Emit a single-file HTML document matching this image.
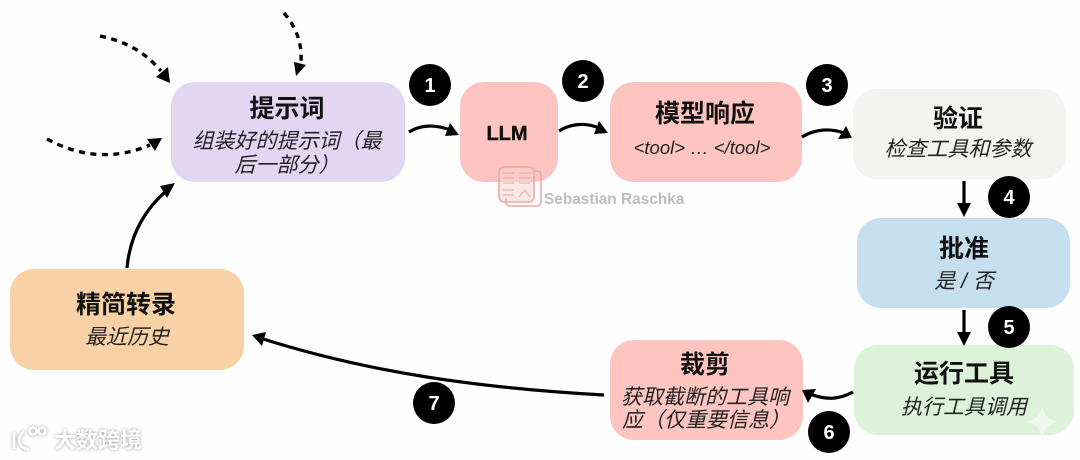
<!DOCTYPE html>
<html><head><meta charset="utf-8">
<style>
html,body{margin:0;padding:0;background:#fefefe}
svg{display:block}
text{font-family:"Liberation Sans","Noto Sans CJK SC",sans-serif;text-anchor:middle;fill:#111}
.t{font-size:25px;font-weight:700}
.s{font-size:21px;font-style:italic;fill:#222}
.n{font-size:20px;font-weight:700;fill:#fff}
.l{fill:none;stroke:#000;stroke-width:3.2}
.d{fill:none;stroke:#000;stroke-width:3.4;stroke-dasharray:6 5.5}
.w{filter:drop-shadow(0 0 1.5px #9a9a9a)}
</style></head><body>
<svg width="1080" height="460" viewBox="0 0 1080 460" xmlns="http://www.w3.org/2000/svg">
<rect width="1080" height="460" fill="#fefefe"/>
<rect x="171" y="82" width="234" height="100" rx="24" fill="#e2d6f3"/>
<rect x="460" y="82" width="98" height="100" rx="24" fill="#fdc4c0"/>
<rect x="610" y="82" width="192" height="100" rx="24" fill="#fdc4c0"/>
<rect x="853" y="89" width="213" height="90" rx="24" fill="#f3f3f1"/>
<rect x="857" y="218" width="213" height="90" rx="24" fill="#c6dfee"/>
<rect x="854" y="345" width="220" height="90" rx="24" fill="#dcf3da"/>
<rect x="610" y="340" width="193" height="100" rx="24" fill="#fdc4c0"/>
<rect x="10" y="269" width="234" height="101" rx="24" fill="#f8d2a6"/>

<text class="t" x="287" y="117">提示词</text>
<text class="s" x="287" y="148">组装好的提示词（最</text>
<text class="s" x="287" y="172">后一部分）</text>
<text x="507" y="140" style="font-size:20px;font-weight:700;stroke:#111;stroke-width:.4">LLM</text>
<text class="t" x="705" y="122">模型响应</text>
<text class="s" x="702" y="154" style="font-size:18.5px">&lt;tool&gt; … &lt;/tool&gt;</text>
<text class="t" x="958" y="127">验证</text>
<text class="s" x="958" y="156">检查工具和参数</text>
<text class="t" x="964" y="257">批准</text>
<text class="s" x="964" y="288">是 / 否</text>
<text class="t" x="964" y="382">运行工具</text>
<text class="s" x="964" y="414">执行工具调用</text>
<text class="t" x="705" y="373">裁剪</text>
<text class="s" x="705" y="404">获取截断的工具响</text>
<text class="s" x="706" y="427">应（仅重要信息）</text>
<text class="t" x="126" y="313">精简转录</text>
<text class="s" x="127" y="344">最近历史</text>

<!-- solid connectors -->
<path class="l" d="M409 132C420 125 435 124 450 130"/>
<polygon points="450,123 459,135 445,136" fill="#000"/>
<path class="l" d="M559 131C570 124 585 122 599 128"/>
<polygon points="599,121 608,133 594,134" fill="#000"/>
<path class="l" d="M802 137C815 129 830 128 844 133"/>
<polygon points="846,126 852,138 838,139" fill="#000"/>
<path class="l" d="M964 181V206"/>
<polygon points="964,217 957,203 971,203" fill="#000"/>
<path class="l" d="M964 310V335"/>
<polygon points="964,346 957,332 971,332" fill="#000"/>
<path class="l" d="M853 392C838 400 826 400 810 394"/>
<polygon points="802,390 816,389 808,403" fill="#000"/>
<path class="l" d="M604 395C480 388 370 373 260 338"/>
<polygon points="252,335 266,332 262,346" fill="#000"/>
<path class="l" d="M127 268C130 235 145 210 165 192"/>
<polygon points="175,183 160,186 167,198" fill="#000"/>

<!-- dashed connectors -->
<path class="d" d="M100 36C125 41 145 52 161 71"/>
<polygon points="170,83 168,67 156,77" fill="#000"/>
<path class="d" d="M284 13C296 27 302 42 301 62"/>
<polygon points="296,76 294,62 306,65" fill="#000"/>
<path class="d" d="M47 139C80 157 115 160 150 145"/>
<polygon points="162,138 147,139 155,151" fill="#000"/>

<!-- numbered badges -->
<circle cx="430" cy="85" r="21" fill="#000"/><text class="n" x="430" y="92">1</text>
<circle cx="583" cy="81" r="21" fill="#000"/><text class="n" x="583" y="88">2</text>
<circle cx="827" cy="85" r="21" fill="#000"/><text class="n" x="827" y="92">3</text>
<circle cx="1009" cy="197" r="21" fill="#000"/><text class="n" x="1009" y="204">4</text>
<circle cx="1009" cy="327" r="21" fill="#000"/><text class="n" x="1009" y="334">5</text>
<circle cx="829" cy="432" r="21" fill="#000"/><text class="n" x="829" y="439">6</text>
<circle cx="434" cy="403" r="21" fill="#000"/><text class="n" x="434" y="410">7</text>

<!-- watermarks -->
<rect x="499" y="167" width="35" height="35" rx="5" fill="#f6d4d1" fill-opacity=".55"/>
<g fill="none" stroke="#e6a5a1" stroke-width="1.8" opacity=".8">
<rect x="499" y="167" width="35" height="35" rx="5"/>
<path d="M534 171h3a4 4 0 0 1 4 4v27a4 4 0 0 1-4 4h-27a4 4 0 0 1-4-4v-4"/>
<path d="M503 173h11M503 178h11M503 183h11M519 173h11M519 178h11M519 183h11M503 190h11M503 195h11M519 197l6-7 5 7" stroke-width="1.2"/>
</g>
<text x="544" y="204" style="font-size:15.4px;font-weight:700;fill:#bdbdbd;text-anchor:start">Sebastian Raschka</text>
<path d="M1042 405C1044 416 1048 420 1059 422C1048 424 1044 428 1042 439C1040 428 1036 424 1025 422C1036 420 1040 416 1042 405Z" fill="#ebf8ea"/>
<g class="w" fill="none" stroke="#fff" stroke-width="2.6">
<path d="M14 432V449M24 431C16 438 18 449 29 449"/>
<circle cx="33" cy="431" r="3.5"/><circle cx="42" cy="431" r="3.5"/>
</g>
<text class="w" x="98" y="448" style="font-size:22px;font-weight:700;fill:#fff">大数跨境</text>
</svg>
</body></html>
